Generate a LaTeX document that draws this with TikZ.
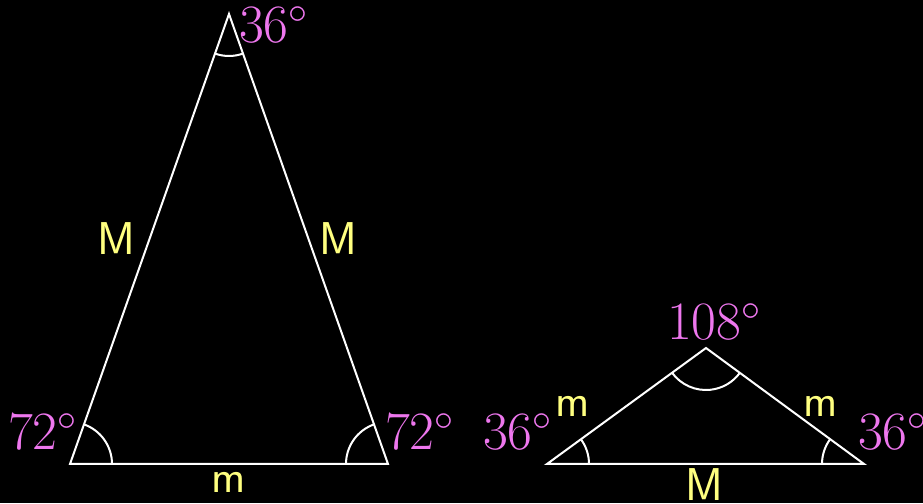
\RequirePackage{fix-cm}
\documentclass[tikz,border=0pt]{standalone}
\usetikzlibrary{angles}
\definecolor{mag}{RGB}{238,119,238}
\definecolor{yel}{RGB}{255,255,128}
\begin{document}
\begin{tikzpicture}[x=1pt,y=1pt,
  edge/.style={draw=white,line width=2pt,line join=miter},
  ang/.style={draw=white,line width=2pt,angle radius=42pt},
  deg/.style={text=mag,inner sep=0pt,anchor=base west,font=\fontsize{54}{58}\selectfont},
  side/.style={text=yel,inner sep=0pt,anchor=base west,font=\fontsize{46}{50}\selectfont\sffamily}]
\useasboundingbox (0,0) rectangle (923,503);
\clip (0,0) rectangle (923,503);
\fill[black] (0,0) rectangle (923,503);
% left triangle
\coordinate (A) at (229,489);
\coordinate (B) at (70,39);
\coordinate (C) at (388,39);
\draw[edge] (A) -- (B) -- (C) -- cycle;
\pic[ang] {angle = B--A--C};
\pic[ang] {angle = C--B--A};
\pic[ang] {angle = A--C--B};
% right triangle
\coordinate (D) at (547,39);
\coordinate (E) at (864,39);
\coordinate (F) at (706,155);
\draw[edge] (D) -- (E) -- (F) -- cycle;
\pic[ang] {angle = E--D--F};
\pic[ang] {angle = F--E--D};
\pic[ang] {angle = D--F--E};
% angle labels
\node[deg] (la) at (239,460) {$36^\circ$};
\node[deg] (lb) at (8,53) {$72^\circ$};
\node[deg] (lc) at (385,53) {$72^\circ$};
\node[deg] (lf) at (667,163) {$108^\circ$};
\node[deg] (ld) at (483,53) {$36^\circ$};
\node[deg] (le) at (858,53) {$36^\circ$};
% side labels
\node[side] (s1) at (97,248) {M};
\node[side] (s2) at (319,248) {M};
\node[side] (s3) at (211,11) {m};
\node[side] (s4) at (555,86) {m};
\node[side] (s5) at (803,86) {m};
\node[side] (s6) at (685,2) {M};
\end{tikzpicture}
\end{document}
